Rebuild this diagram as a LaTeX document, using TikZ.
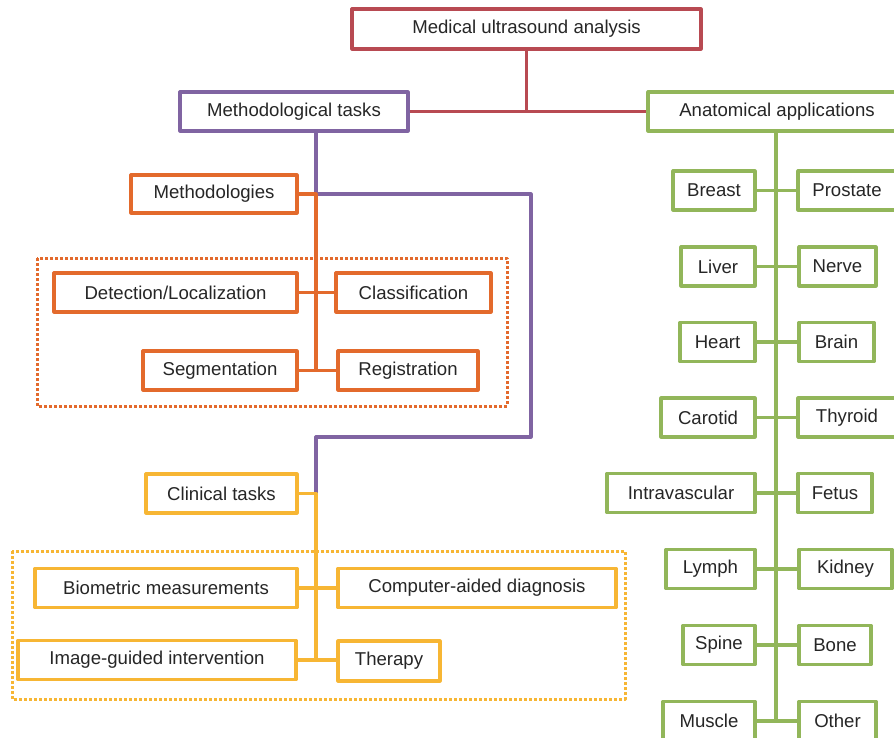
\documentclass[tikz,border=0pt]{standalone}
\usepackage{fontspec}
\setmainfont{Liberation Sans}
\definecolor{mured}{RGB}{184,74,82}
\definecolor{mupurple}{RGB}{128,100,162}
\definecolor{muorange}{RGB}{227,106,44}
\definecolor{muyellow}{RGB}{247,182,52}
\definecolor{mugreen}{RGB}{146,182,90}
\tikzset{
	box/.style={draw=#1, line width=3.2pt, fill=white, inner sep=0pt,
		font=\fontsize{18.6}{22}\selectfont, text=black!85},
	wh/.style 2 args={minimum width=#1pt, minimum height=#2pt},
	link/.style={draw=#1, line width=3.2pt},
	group/.style={draw=#1, line width=3pt, dash pattern=on 2.6pt off 2.4pt},
}
\begin{document}
\begin{tikzpicture}[x=1pt, y=-1pt, line join=round]
		\clip (0,0) rectangle (894,738);
		\path
			(316,0) coordinate (ptop)
			(531,437) coordinate (pbend)
			(776,0) coordinate (gtop)
		;
		% dotted groups
		\draw[group=muorange] (37,258) rectangle (507,406);
		\draw[group=muyellow] (12,551) rectangle (625,699);
		% root and branches
		\node[box=mured, wh={349}{40}] (mua) at (526.5,29) {Medical ultrasound analysis};
		\node[box=mupurple, wh={228}{39}] (metask) at (294,111.5) {Methodological tasks};
		\node[box=mugreen, wh={258}{39}] (anat) at (777,111.5) {Anatomical applications};
		% methodologies
		\node[box=muorange, wh={166}{38}] (meth) at (214,194) {Methodologies};
		\node[box=muorange, wh={243}{39}] (det) at (175.5,292.5) {Detection/Localization};
		\node[box=muorange, wh={155}{39}] (cls) at (413.5,292.5) {Classification};
		\node[box=muorange, wh={154}{39}] (seg) at (220,370.5) {Segmentation};
		\node[box=muorange, wh={140}{39}] (reg) at (408,370.5) {Registration};
		% clinical tasks
		\node[box=muyellow, wh={151}{39}] (clin) at (221.5,493.5) {Clinical tasks};
		\node[box=muyellow, wh={262}{39}] (bio) at (166,588) {Biometric measurements};
		\node[box=muyellow, wh={278}{39}] (cad) at (477,588) {Computer-aided diagnosis};
		\node[box=muyellow, wh={278}{39}] (igi) at (157,660) {Image-guided intervention};
		\node[box=muyellow, wh={102}{40}] (ther) at (389,661) {Therapy};
		% anatomical applications
		\foreach \l/\lx/\lw/\r/\rx/\rw/\y/\n in {
			Breast/714/82/Prostate/847/98/190.5/1,
			Liver/718/74/Nerve/837.5/77/266.5/2,
			Heart/717.5/75/Brain/836.5/75/342/3,
			Carotid/708/94/Thyroid/847/98/417.5/4,
			Intravascular/681/148/Fetus/835/74/493/5,
			Lymph/710.5/89/Kidney/845.5/93/569/6,
			Spine/719/72/Bone/835/72/645/7,
			Muscle/709/92/Other/837.5/77/721/8}{
			\node[box=mugreen, wh={\lw}{39}] (l\n) at (\lx,\y) {\l};
			\node[box=mugreen, wh={\rw}{39}] (r\n) at (\rx,\y) {\r};
			\draw[link=mugreen] (l\n.east) -- (r\n.west);
		}
		% connectors
		\draw[link=mured] (mua.south) -- (mua.south |- metask.east);
		\draw[link=mured] (metask.east) -- (anat.west);
		\draw[link=mupurple] (metask.south -| ptop) |- (pbend |- meth.east) -- (pbend) -| (ptop |- clin.east);
		\draw[link=muorange] (meth.east) -| (ptop |- seg.east);
		\draw[link=muorange] (det.east) -- (cls.west);
		\draw[link=muorange] (seg.east) -- (reg.west);
		\draw[link=muyellow] (clin.east) -| (ptop |- igi.east);
		\draw[link=muyellow] (bio.east) -- (cad.west);
		\draw[link=muyellow] (igi.east) -- (igi.east -| ther.west);
		\draw[link=mugreen] (anat.south -| gtop) -- (gtop |- l8.east);
\end{tikzpicture}
\end{document}
